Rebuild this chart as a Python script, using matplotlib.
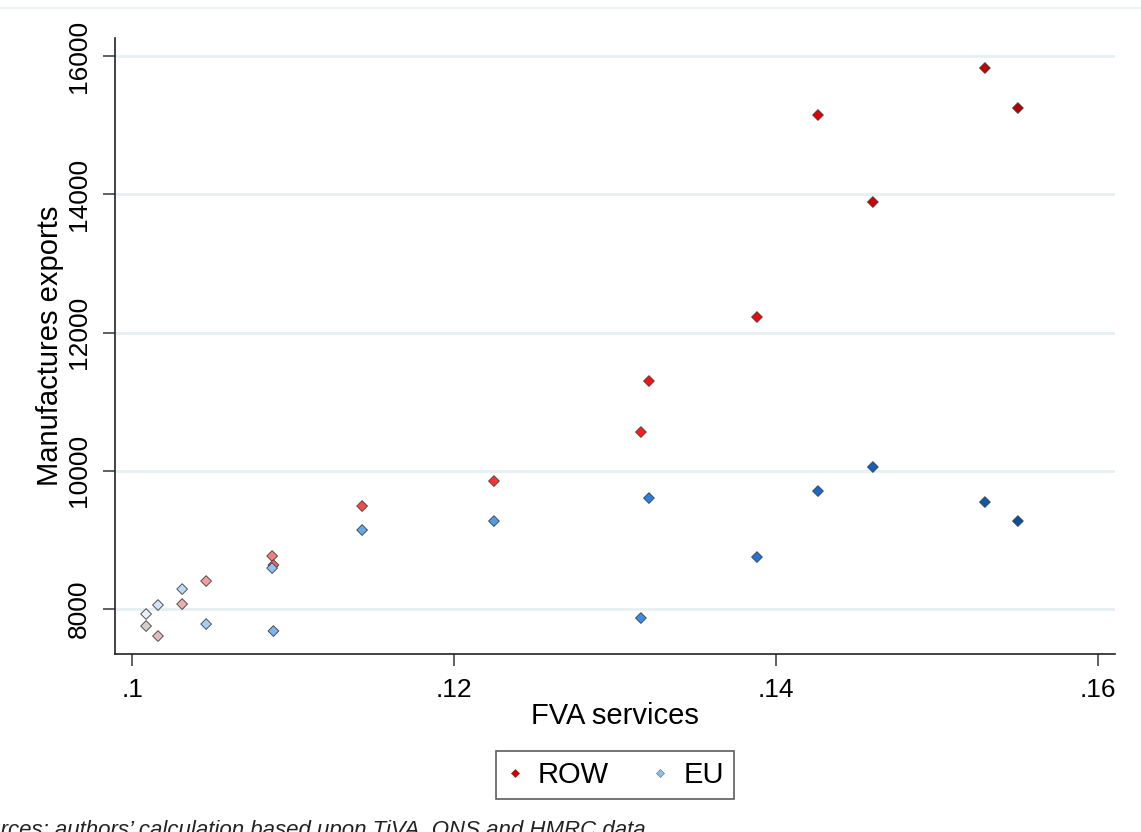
import matplotlib
matplotlib.use("Agg")
import matplotlib.pyplot as plt
from matplotlib.colors import LinearSegmentedColormap
from matplotlib.lines import Line2D

# Foreign value added in services and manufactures exports by year
years = list(range(2000, 2015))
fva_services = [0.10087, 0.10161, 0.10311, 0.10460, 0.10870, 0.10878, 0.11429,
                0.12248, 0.13161, 0.13211, 0.13882, 0.14261, 0.14602, 0.15298, 0.15503]
exports_row = [7754, 7609, 8072, 8405, 8767, 8637, 9490,
               9852, 10561, 11299, 12225, 15148, 13889, 15828, 15249]
exports_eu = [7928, 8058, 8289, 7783, 8593, 7682, 9143,
              9273, 7870, 9606, 8752, 9707, 10055, 9548, 9273]

y_ticks = [8000, 10000, 12000, 14000, 16000]
x_ticks = [0.10, 0.12, 0.14, 0.16]
x_tick_labels = [".1", ".12", ".14", ".16"]

plt.rcParams["font.family"] = ["Liberation Sans", "DejaVu Sans"]

row_cmap = LinearSegmentedColormap.from_list(
    "row", ["#d6cccc", "#f4a2a2", "#f25454", "#ff1414", "#e00000", "#b40000"])
eu_cmap = LinearSegmentedColormap.from_list(
    "eu", ["#eaf0f8", "#a8d0f8", "#6eaeee", "#2e88e8", "#1468c8", "#08509f"])

fig = plt.figure(figsize=(11.41, 8.32), dpi=100)
ax = fig.add_axes([0.1008, 0.2139, 0.8764, 0.7404])

# Shade each year from pale (early) to dark (late)
shade = [(y - years[0]) / (years[-1] - years[0]) for y in years]
ax.scatter(fva_services, exports_row, c=[row_cmap(s) for s in shade], marker="D",
           s=30, edgecolors="#3c3c3c", linewidths=0.6, zorder=3)
ax.scatter(fva_services, exports_eu, c=[eu_cmap(s) for s in shade], marker="D",
           s=30, edgecolors="#3c3c3c", linewidths=0.6, zorder=3)

ax.set_xlim(0.09894, 0.16106)
ax.set_ylim(7349, 16262)
ax.set_xticks(x_ticks)
ax.set_xticklabels(x_tick_labels)
ax.set_yticks(y_ticks)
ax.set_yticklabels([str(v) for v in y_ticks], rotation=90, va="center")

for v in y_ticks:
    ax.axhline(v, color="#e6eff1", linewidth=2, zorder=1)

for side in ("top", "right"):
    ax.spines[side].set_visible(False)
for side in ("left", "bottom"):
    ax.spines[side].set_color("#222222")
    ax.spines[side].set_linewidth(1.2)

ax.tick_params(axis="both", direction="out", length=8.5, width=1.2,
               color="#444444", labelsize=19)
ax.tick_params(axis="y", pad=9)
ax.tick_params(axis="x", pad=9)

ax.set_xlabel("FVA services", fontsize=21, labelpad=0)
ax.set_ylabel("Manufactures exports", fontsize=21, labelpad=2)

# Thin rule along the top of the graph region
fig.add_artist(Line2D([0, 1], [0.990, 0.990], color="#e8eef1", linewidth=1.2))

handles = [
    Line2D([], [], linestyle="none", marker="D", markersize=4.5,
           markerfacecolor="#d40000", markeredgecolor="#7a2020", markeredgewidth=0.4),
    Line2D([], [], linestyle="none", marker="D", markersize=4.5,
           markerfacecolor="#8fbde9", markeredgecolor="#506a88", markeredgewidth=0.4),
]
leg = fig.legend(handles, ["ROW", "EU"], loc="center", bbox_to_anchor=(0.539, 0.0685),
                 ncol=2, fontsize=21, frameon=True, fancybox=False,
                 handlelength=0.6, handletextpad=0.5, columnspacing=1.45,
                 borderpad=0.35, borderaxespad=0)
leg.get_frame().set_edgecolor("#333333")
leg.get_frame().set_linewidth(1.2)

fig.text(0.566, -0.005, "Sources: authors\u2019 calculation based upon TiVA, ONS and HMRC data",
         ha="right", va="baseline", fontsize=16, style="italic", color="#222222")

fig.savefig("out.png", dpi=100, facecolor="white")
